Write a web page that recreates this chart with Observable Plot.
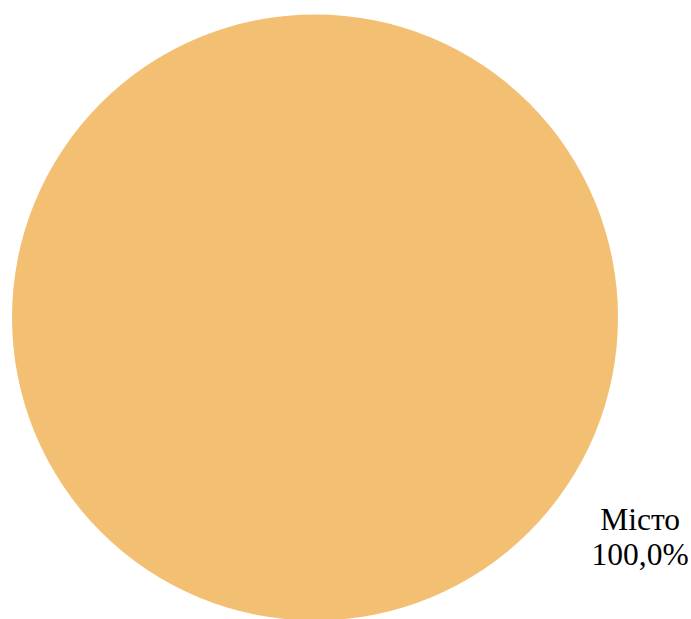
<!DOCTYPE html>
<html>
<head>
<meta charset="utf-8">
<script src="https://cdn.jsdelivr.net/npm/d3@7"></script>
<script src="https://cdn.jsdelivr.net/npm/@observablehq/plot@0.6"></script>
<style>
  html, body { margin: 0; padding: 0; background: #fff; }
  #chart svg { display: block; }
</style>
</head>
<body>
<div id="chart"></div>
<script>
// Data
const categories = ["Місто"];
const values = [100.0];
const valueLabels = ["100,0%"];
const colors = ["#F3C073"];

const data = categories.map((c, i) => ({category: c, value: values[i], label: valueLabels[i]}));
const total = d3.sum(values);

// Pie slices via d3.pie (single slice here = full circle)
const pie = d3.pie().value(d => d.value).sort(null)(data);

// Label placement (layout constants): angle clockwise from 12 o'clock, radius in units of pie radius
const labelAngle = 123.9 * Math.PI / 180;
const labelRadius = 1.293;
const labels = pie.map(p => ({
  text: p.data.category + "\n" + p.data.label,
  u: Math.sin(labelAngle) * labelRadius,
  v: Math.cos(labelAngle) * labelRadius
}));

const R = 303;
const chart = Plot.plot({
  width: 691,
  height: 619,
  margin: 0,
  x: {domain: [-1, 1], range: [314.5 - R, 314.5 + R], axis: null},
  y: {domain: [-1, 1], range: [317 + R, 317 - R], axis: null},
  r: {domain: [0, total], range: [0, R]},
  style: {background: "#fff"},
  marks: [
    // each slice: a full-circle slice drawn as a dot whose radius comes from the r scale
    Plot.dot(pie, {
      x: () => 0,
      y: () => 0,
      r: p => p.data.value,
      fill: (p, i) => colors[i],
      stroke: "none"
    }),
    Plot.text(labels, {
      x: "u",
      y: "v",
      text: "text",
      fontFamily: "Liberation Serif, Times New Roman, serif",
      fontSize: 31.5,
      fill: "#000",
      textAnchor: "middle",
      lineAnchor: "middle",
      lineHeight: 1.11
    })
  ]
});
document.getElementById("chart").appendChild(chart);
</script>
</body>
</html>
